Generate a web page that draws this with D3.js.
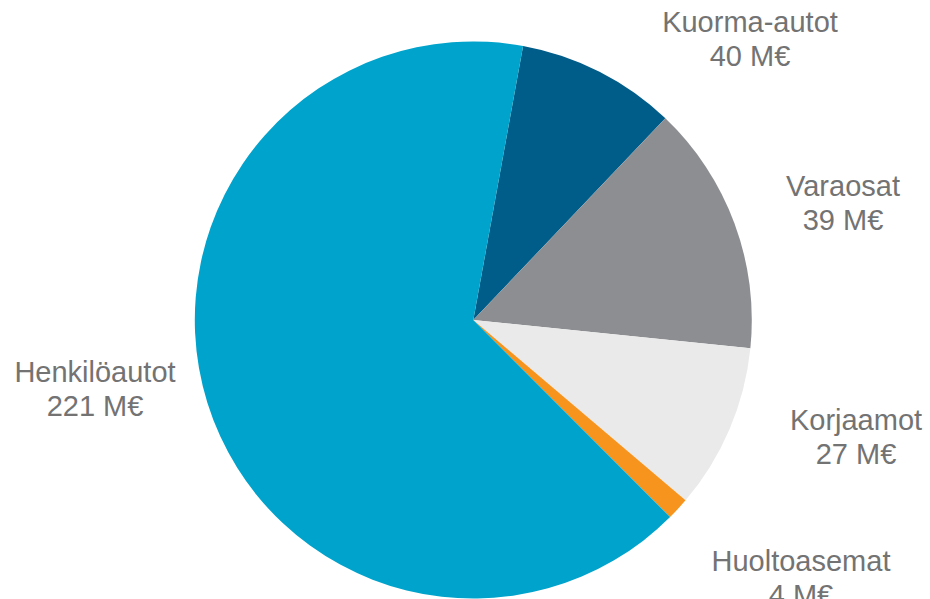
<!DOCTYPE html>
<html><head><meta charset="utf-8">
<script src="https://cdn.jsdelivr.net/npm/d3@7"></script>
<style>html,body{margin:0;padding:0;background:#fff;}svg{display:block;}</style>
</head><body>
<svg id="chart" width="930" height="599"></svg>
<script>
// Slice order clockwise starting at Kuorma-autot
const categories = ["Kuorma-autot", "Varaosat", "Korjaamot", "Huoltoasemat", "Henkilöautot"];
const valueLabels = ["40 M€", "39 M€", "27 M€", "4 M€", "221 M€"];
// slice sizes (share of circle, %)
const sliceShares = [9.25, 14.5, 9.6, 1.3, 65.35];
const colors = ["#005C88", "#8D8E92", "#EAEAEA", "#F7941D", "#00A3CB"];
// label anchor positions (centre x, first baseline y)
const labelX = [750, 843, 856, 801, 95];
const labelY = [32, 196, 430, 571, 382];

const svg = d3.select("#chart");
const cx = 473.3, cy = 320, r = 278.5;
const startDeg = 10.3;
const pie = d3.pie().sort(null).value(d => d)
  .startAngle(startDeg * Math.PI / 180)
  .endAngle((startDeg + 360) * Math.PI / 180);
const arc = d3.arc().innerRadius(0).outerRadius(r);
const g = svg.append("g").attr("transform", `translate(${cx},${cy})`);
g.selectAll("path").data(pie(sliceShares)).join("path")
  .attr("d", arc).attr("fill", (d, i) => colors[i]);

const lbl = svg.append("g")
  .attr("font-family", "'Liberation Sans', Arial, sans-serif")
  .attr("font-size", 29).attr("fill", "#737373").attr("text-anchor", "middle");
categories.forEach((c, i) => {
  const t = lbl.append("text").attr("x", labelX[i]).attr("y", labelY[i]);
  t.append("tspan").attr("x", labelX[i]).text(c);
  t.append("tspan").attr("x", labelX[i]).attr("dy", 34).text(valueLabels[i]);
});
</script>
</body></html>
